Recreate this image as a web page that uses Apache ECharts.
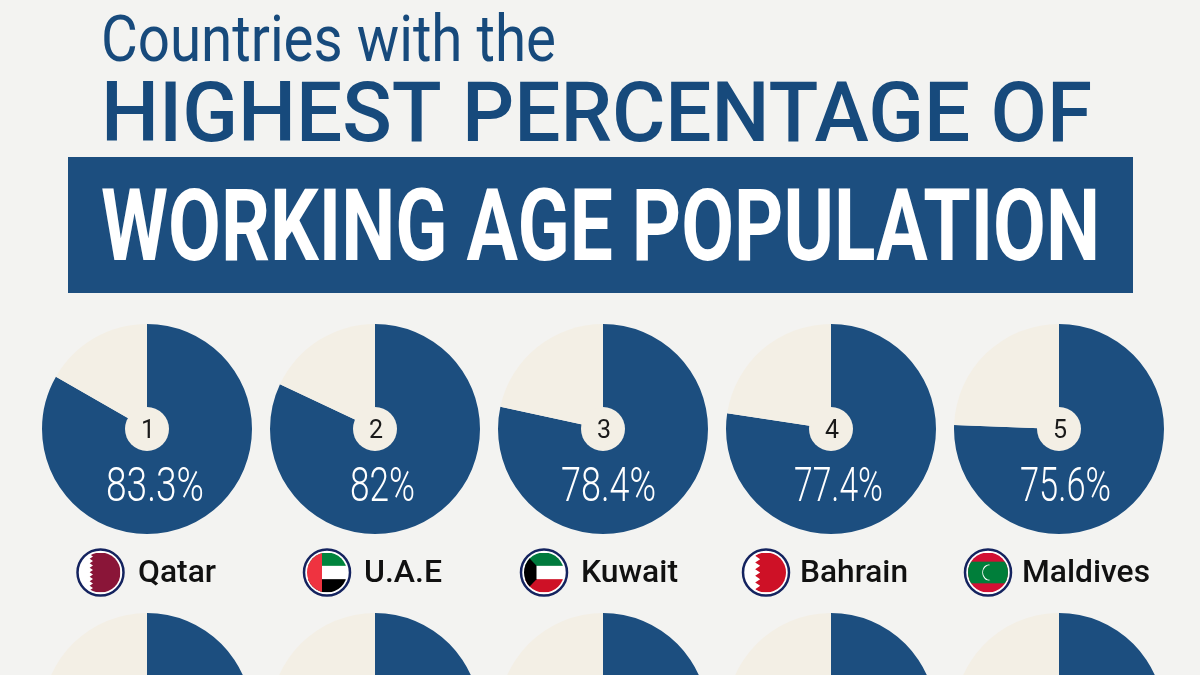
<!DOCTYPE html>
<html><head><meta charset="utf-8">
<style>html,body{margin:0;padding:0;background:#f3f3f1}#c{width:1200px;height:675px}</style>
<script src="https://cdn.jsdelivr.net/npm/echarts@6/dist/echarts.min.js"></script>
</head><body><div id="c"></div>
<script>
const ranks=[1,2,3,4,5,6,7,8,9,10];
const countries=['Qatar','U.A.E','Kuwait','Bahrain','Maldives'];
const shares=[83.3,82,78.4,77.4,75.6];
const hiddenRowShares=[75.4,75.2,75.0,74.8,74.6];
const pieX=[147,375,603,831,1059];
const rowY=[429,718];
const R=105,NAVY='#1c4e7f',CREAM='#f3efe5',TITLE='#174a7c';
const labelX=[106,350,561,794,1020];
const labelWidths=[98,65,95,89,91];
const flagX=[100.5,327,544,766,988];
const nameX=[138,364,581,800,1022];
const nameWidths=[78,78,97,108,128];

const flags=[
 '<rect width="48" height="48" fill="#fff"/><path d="M15 0H48V48H15l-4-2.7 4-2.7-4-2.7 4-2.7-4-2.7 4-2.7-4-2.7 4-2.7-4-2.7 4-2.7-4-2.7 4-2.7-4-2.7 4-2.7-4-2.7 4-2.7-4-2.7z" fill="#8a1538"/>',
 '<rect width="48" height="48" fill="#fff"/><rect width="48" height="16" fill="#00843d"/><rect y="32" width="48" height="16" fill="#000"/><rect width="18" height="48" fill="#ef3340"/>',
 '<rect width="48" height="48" fill="#fff"/><rect width="48" height="16" fill="#007a3d"/><rect y="32" width="48" height="16" fill="#ce1126"/><path d="M0 0L15 16V32L0 48z" fill="#000"/>',
 '<rect width="48" height="48" fill="#fff"/><path d="M17 0H48V48H17l-6-4 6-4-6-4 6-4-6-4 6-4-6-4 6-4-6-4 6-4-6-4 6-4z" fill="#ce1126"/>',
 '<rect width="48" height="48" fill="#d21034"/><rect y="11" width="48" height="26" fill="#007e3a"/><path d="M27 15a9 9 0 1 0 0 18a7.5 9.5 0 1 1 0-18z" fill="#fff"/>'
];
function flagUri(s){
 return 'data:image/svg+xml;charset=utf-8,'+encodeURIComponent('<svg xmlns="http://www.w3.org/2000/svg" width="96" height="96" viewBox="0 0 48 48"><defs><clipPath id="a"><circle cx="24" cy="24" r="24"/></clipPath></defs><g clip-path="url(#a)">'+s+'</g></svg>');
}
const mc=document.createElement('canvas').getContext('2d');
const ASC=0.77;
function fit(text,x,baseY,font,size,weight,width,fill){
 mc.font=weight+' '+size+'px '+font;
 const w=mc.measureText(text).width;
 return {type:'text',x:x,y:baseY-ASC*size,scaleX:width/w,z:10,
  style:{text:text,font:weight+' '+size+'px '+font,fill:fill,textAlign:'left'}};
}
const F='Roboto';
const graphic=[
 {type:'rect',shape:{x:68,y:157,width:1065,height:136},style:{fill:NAVY},z:1},
 fit('Countries with the',101,62,F,64,'400',455,TITLE),
 fit('HIGHEST PERCENTAGE OF',101,143,F,84,'500',991,TITLE),
 fit('WORKING AGE POPULATION',101,262,F,101,'700',999,'#ffffff')
];
shares.forEach((v,i)=>{
 const t=v+'%';
 graphic.push(fit(t,labelX[i],502,F,48,'300',labelWidths[i],'#ffffff'));
 graphic.push({type:'circle',shape:{cx:flagX[i],cy:572.5,r:23},style:{fill:'#fff',stroke:'#14235f',lineWidth:2.5},z:5});
 graphic.push({type:'image',x:flagX[i]-20,y:552.5,style:{image:flagUri(flags[i]),width:40,height:40},z:6});
 graphic.push(fit(countries[i],nameX[i],583,F,32,'500',nameWidths[i],'#111'));
});
const series=[];
function addPie(v,rank,x,y){
 series.push({type:'pie',center:[x,y],radius:[0,R],startAngle:90,clockwise:true,silent:true,animation:false,
  label:{show:false},labelLine:{show:false},emphasis:{disabled:true},
  data:[{value:v,name:String(rank),itemStyle:{color:NAVY}},{value:100-v,name:'rest',itemStyle:{color:CREAM}}]});
 series.push({type:'pie',center:[x,y],radius:[0,22],silent:true,animation:false,z:3,labelLine:{show:false},emphasis:{disabled:true},
  label:{show:true,position:'center',formatter:String(rank),fontFamily:F,fontSize:25,color:'#1a1a1a',offset:[1,3]},
  data:[{value:1,name:'rank',itemStyle:{color:CREAM}}]});
}
shares.forEach((v,i)=>addPie(v,ranks[i],pieX[i],rowY[0]));
hiddenRowShares.forEach((v,i)=>addPie(v,ranks[i+5],pieX[i],rowY[1]));
const chart=echarts.init(document.getElementById('c'),null,{renderer:'canvas'});
chart.setOption({backgroundColor:'#f3f3f1',animation:false,tooltip:{show:false},series:series,graphic:graphic});
</script></body></html>
